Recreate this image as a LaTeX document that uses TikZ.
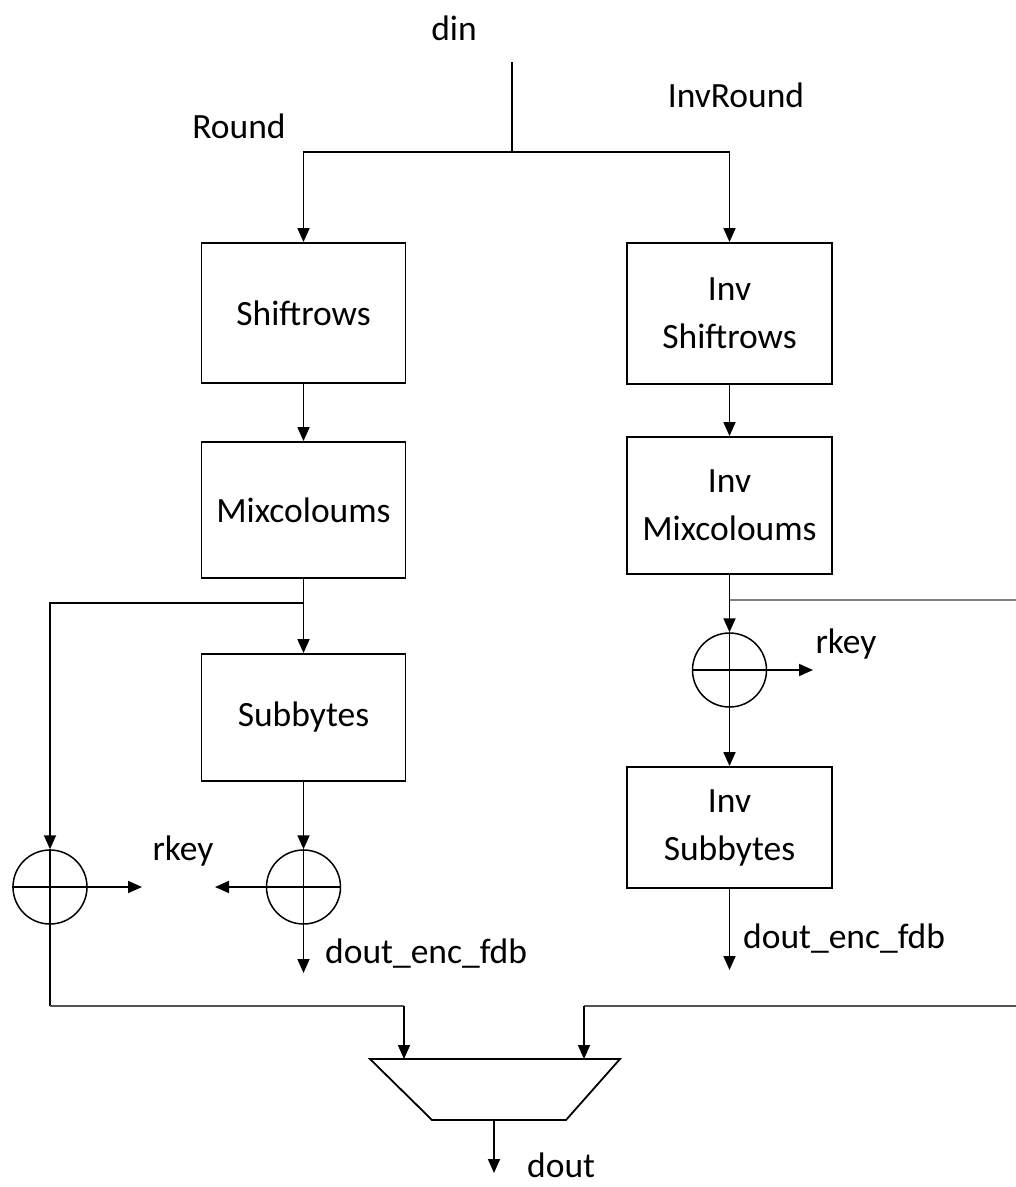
\documentclass[tikz,border=0pt]{standalone}
\usepackage{fontspec}
\setmainfont{Carlito}
\usetikzlibrary{arrows.meta}
\begin{document}
\begin{tikzpicture}[x=1pt,y=-1pt,
  every node/.style={font=\fontsize{35.5}{48}\selectfont, inner sep=0pt},
  block/.style={draw, line width=1.9pt, minimum width=204pt, align=center},
  xorgate/.style={draw, circle, line width=1.5pt, minimum size=74pt},
  wire/.style={line width=1.8pt},
  arr/.style={wire, -{Triangle[length=14pt,width=12pt]}},
  greywire/.style={line width=2.8pt, draw=black!50},
  darkwire/.style={line width=2.8pt, draw=black!68},
  lbl/.style={anchor=base}
]
\useasboundingbox (0,0) rectangle (1016,1187);

% encryption round column
\node[block, minimum height=140pt] (sr) at (303.5,313) {Shiftrows};
\node[block, minimum height=136pt] (mc) at (303.5,510) {Mixcoloums};
\node[block, minimum height=127pt] (sb) at (303.5,717.5) {Subbytes};
\node[xorgate] (xl) at (50,887) {};
\node[xorgate] (xr) at (303.5,887) {};

% decryption round column
\node[block, minimum height=141pt, minimum width=205pt] (isr) at (729.5,313.5) {Inv\\Shiftrows};
\node[block, minimum height=137pt, minimum width=205pt] (imc) at (729.5,505.5) {Inv\\Mixcoloums};
\node[xorgate] (xi) at (729.5,670) {};
\node[block, minimum height=121pt, minimum width=205pt] (isb) at (729.5,827.5) {Inv\\Subbytes};

% plus signs inside the xor gates
\foreach \g in {xl,xr,xi}
  \draw[line width=1.5pt] (\g.north) -- (\g.south) (\g.west) -- (\g.east);

% labels
\node[lbl] (tdin) at (454,40) {din};
\node[lbl] (tround) at (239,138) {Round};
\node[lbl] (tinvround) at (736,107) {InvRound};
\node[lbl] (trkeyl) at (183,860) {rkey};
\node[lbl] (trkeyr) at (846,653) {rkey};
\node[anchor=base west] (tencl) at (325,963) {dout\_enc\_fdb};
\node[anchor=base west] (tencr) at (743,948) {dout\_enc\_fdb};
\node[anchor=base west] (tdout) at (527,1177) {dout};

% helper points
\coordinate (dintop) at (512,62);
\coordinate (split) at (512,152);
\coordinate (lb) at (303.5,603);
\coordinate (lk) at (142,887);
\coordinate (rk) at (215,887);
\coordinate (encl) at (303.5,973);
\coordinate (lbend) at (50,1006);
\coordinate (rb) at (729.5,600);
\coordinate (redge) at (1016,600);
\coordinate (ik) at (813,670);
\coordinate (encr) at (729.5,970);
\coordinate (redge2) at (1016,1006);

% multiplexer
\coordinate (mtl) at (370,1059);
\coordinate (mtr) at (620,1059);
\coordinate (mbr) at (566,1120);
\coordinate (mbl) at (432,1120);
\coordinate (m1) at (404,1059);
\coordinate (m2) at (584,1059);
\coordinate (mout) at (494,1120);
\coordinate (doutend) at (494,1173);
\draw[line width=1.8pt, line join=miter] (mtl) -- (mtr) -- (mbr) -- (mbl) -- cycle;

% connections
\draw[wire] (dintop) -- (split);
\draw[arr] (split) -| (sr.north);
\draw[arr] (split) -| (isr.north);
\draw[arr] (sr.south) -- (mc.north);
\draw[arr] (mc.south) -- (sb.north);
\draw[arr] (lb) -| (xl.north);
\draw[arr] (sb.south) -- (xr.north);
\draw[arr] (xl.east) -- (lk);
\draw[arr] (xr.west) -- (rk);
\draw[arr] (xr.south) -- (encl);
\draw[wire] (xl.south) -- (lbend);
\draw[darkwire] (lbend) -- (m1 |- lbend);
\draw[arr] (m1 |- lbend) -- (m1);

\draw[arr] (isr.south) -- (imc.north);
\draw[arr] (imc.south) -- (xi.north);
\draw[greywire] (rb) -- (redge);
\draw[arr] (xi.east) -- (ik);
\draw[arr] (xi.south) -- (isb.north);
\draw[arr] (isb.south) -- (encr);
\draw[darkwire] (redge2) -- (m2 |- redge2);
\draw[arr] (m2 |- redge2) -- (m2);

\draw[arr] (mout) -- (doutend);
\end{tikzpicture}
\end{document}
